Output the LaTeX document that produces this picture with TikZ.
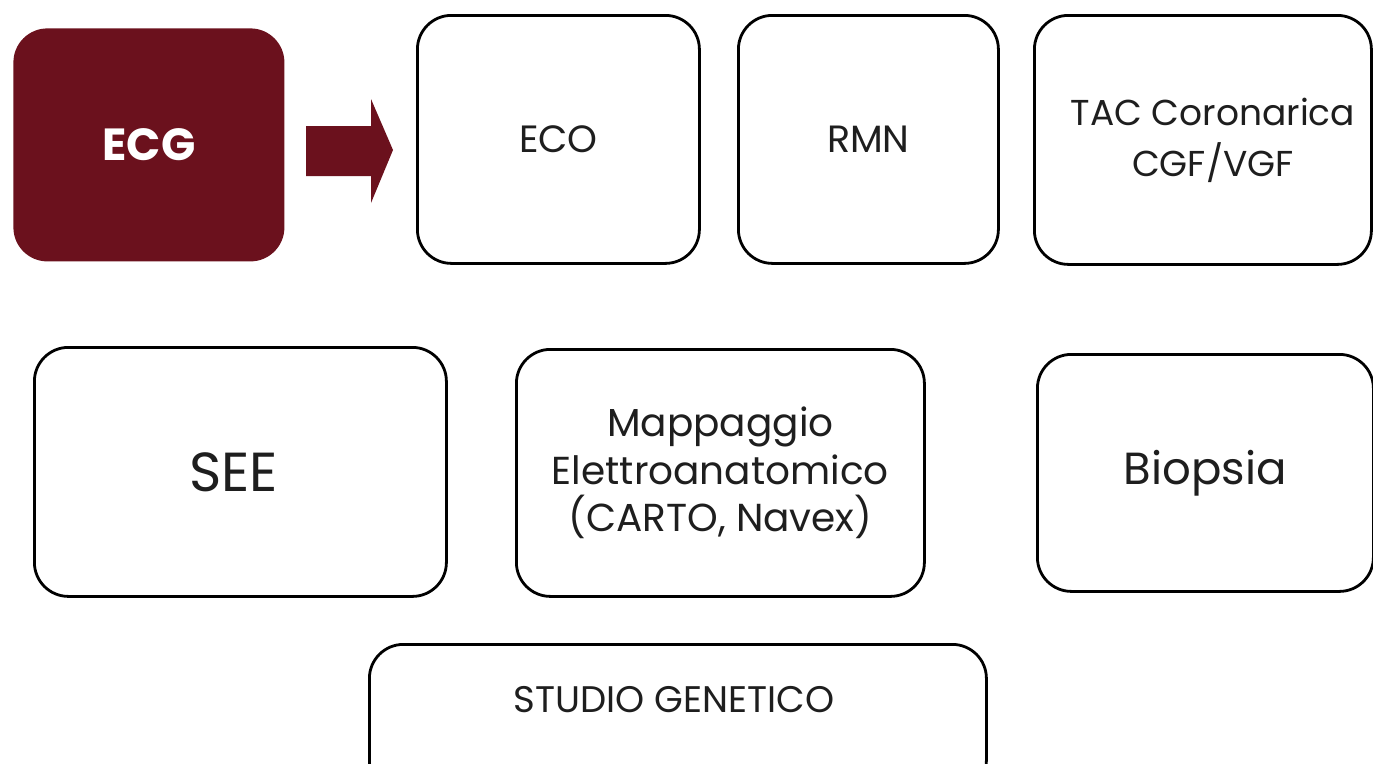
\documentclass[tikz,border=0pt]{standalone}
\usepackage{fontspec}
\setmainfont{Poppins}
\definecolor{ecgred}{RGB}{107,17,29}
\definecolor{txt}{RGB}{30,30,30}
\begin{document}
\begin{tikzpicture}[x=1pt,y=-1pt,
  box/.style={draw=black, line width=2.8pt, rounded corners=34pt, anchor=north west,
    align=center, text=txt, inner sep=0pt}]
\useasboundingbox (0,0) rectangle (1373,763);
\clip (0,0) rectangle (1373,763);
% top row
\node[box, fill=ecgred, draw=none, text=white, minimum width=271pt, minimum height=233pt,
  font=\fontsize{45}{50}\selectfont\bfseries] (ecg) at (12,27) {ECG};
\node[box, font=\fontsize{38}{47}\selectfont, minimum width=282pt, minimum height=248pt] (eco) at (416,14) {ECO};
\node[box, font=\fontsize{38}{47}\selectfont, minimum width=260pt, minimum height=248pt] (rmn) at (737,14) {RMN};
\node[box, font=\fontsize{36}{51}\selectfont, minimum width=337pt, minimum height=249pt] (tac) at (1033,14) {};
\node[text=txt, align=center, font=\fontsize{36}{51}\selectfont] (taclbl) at ([xshift=10pt]tac.center) {TAC Coronarica\\CGF/VGF};
% middle row
\node[box, minimum width=412pt, minimum height=249pt] (see) at (33,346) {};
\node[text=txt, font=\fontsize{55}{60}\selectfont] (seelbl) at ([xshift=-7pt]see.center) {SEE};
\node[box, font=\fontsize{39}{47.5}\selectfont, minimum width=408pt, minimum height=247pt] (map) at (515,348) {Mappaggio\\Elettroanatomico\\(CARTO, Navex)};
\node[box, font=\fontsize{45}{50}\selectfont, minimum width=336pt, minimum height=237pt] (bio) at (1036,353) {Biopsia};
% bottom
\node[box, minimum width=617pt, minimum height=150pt] (gen) at (368,643) {};
\node[text=txt, font=\fontsize{37}{44}\selectfont] (genlbl) at (674,700) {STUDIO GENETICO};
% block arrow
\coordinate (a0) at (306,126);
\fill[ecgred] (a0) -- (371,126) -- (371,99) -- (393,150) -- (371,203) -- (371,176) -- (306,176) -- cycle;
\end{tikzpicture}
\end{document}
